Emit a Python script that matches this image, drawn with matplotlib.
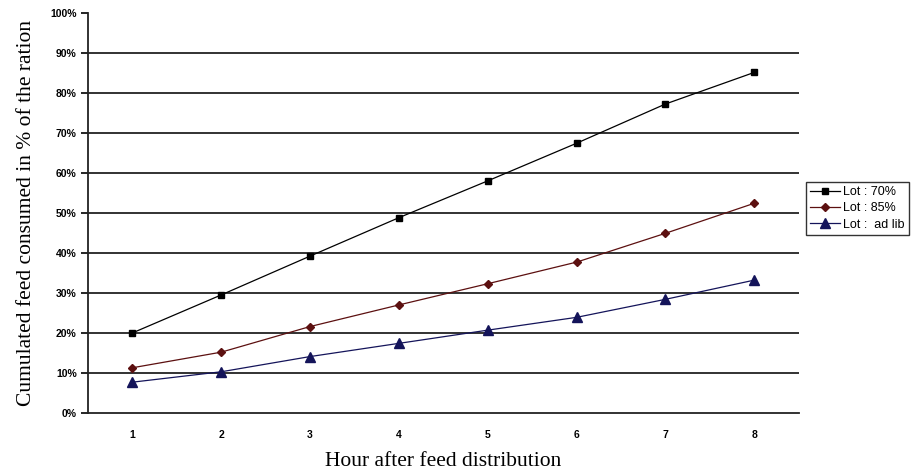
import matplotlib.pyplot as plt
from matplotlib.ticker import FixedLocator, FixedFormatter

# Data
hours = ["1", "2", "3", "4", "5", "6", "7", "8"]
lot_70 = [0.200, 0.295, 0.392, 0.488, 0.580, 0.674, 0.772, 0.851]
lot_85 = [0.113, 0.152, 0.216, 0.270, 0.323, 0.377, 0.449, 0.524]
lot_adlib = [0.077, 0.103, 0.141, 0.174, 0.207, 0.239, 0.284, 0.332]
y_ticks = [i / 10 for i in range(11)]
y_labels = [f"{i * 10}%" for i in range(11)]

fig = plt.figure(figsize=(9.16, 4.72), dpi=100)
ax = fig.add_axes([0.096, 0.125, 0.776, 0.848])

x = range(len(hours))
ax.plot(x, lot_70, color="black", lw=0.9, marker="s", ms=4.5, label="Lot : 70%", zorder=3)
ax.plot(x, lot_85, color="#5c1010", lw=0.9, marker="D", ms=4.5, label="Lot : 85%", zorder=3)
ax.plot(x, lot_adlib, color="#14145a", lw=0.9, marker="^", ms=6.5, label="Lot :  ad lib", zorder=3)

ax.set_xlim(-0.5, len(hours) - 0.5)
ax.set_ylim(0, 1)

# horizontal gridlines (none at the top)
for v in y_ticks[1:-1]:
    ax.axhline(v, color="#222222", lw=1.3, zorder=1)

ax.yaxis.set_major_locator(FixedLocator(y_ticks))
ax.yaxis.set_major_formatter(FixedFormatter(y_labels))
ax.set_xticks(list(x))
ax.set_xticklabels(hours)
ax.tick_params(axis="y", length=5, width=1.2, pad=3, direction="out")
ax.tick_params(axis="x", length=0, pad=12)
for lab in ax.get_yticklabels() + ax.get_xticklabels():
    lab.set_fontfamily("Liberation Sans")
    lab.set_fontweight("bold")
    lab.set_fontsize(7.5)

for s in ["top", "right"]:
    ax.spines[s].set_visible(False)
ax.spines["left"].set_linewidth(1.3)
ax.spines["bottom"].set_linewidth(1.3)
ax.spines["left"].set_color("#222222")
ax.spines["bottom"].set_color("#222222")

ax.set_ylabel("Cumulated feed consumed in % of the ration", fontfamily="Liberation Serif",
              fontsize=15.5, labelpad=10)
ax.set_xlabel("Hour after feed distribution", fontfamily="Liberation Serif", fontsize=15.5,
              labelpad=9)

leg = ax.legend(loc="upper left", bbox_to_anchor=(1.01, 0.578), frameon=True, fancybox=False,
                borderaxespad=0, handlelength=2.4, handletextpad=0.2, borderpad=0.35,
                labelspacing=0.35, prop={"family": "Liberation Sans", "size": 9})
leg.get_frame().set_edgecolor("black")
leg.get_frame().set_linewidth(1.0)
leg.set_clip_on(False)

plt.savefig("out.png", dpi=100)
